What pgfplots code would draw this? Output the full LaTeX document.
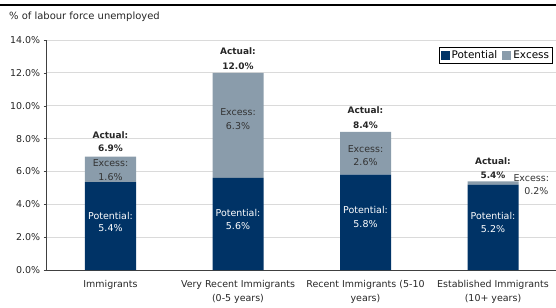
\documentclass[border=0pt]{standalone}
\usepackage{pgfplots}
\pgfplotsset{compat=1.18}
\usepackage{fontspec}
\setmainfont{DejaVu Sans}
\definecolor{navy}{HTML}{003366}
\definecolor{excess}{HTML}{8A9CAB}
\definecolor{gridc}{HTML}{DADADA}
\definecolor{axc}{HTML}{404040}
\begin{document}
\begin{tikzpicture}
\path[use as bounding box] (0,0) rectangle (556bp,308bp);
\draw[black, line width=1.5bp] (0,303bp) -- (556bp,303bp);
\node[anchor=west, inner sep=0pt, font=\fontsize{10}{11}\selectfont, text=black!85] at (9bp,291bp) {\% of labour force unemployed};
\tikzset{lab/.style={font=\fontsize{9.5}{10}\selectfont, inner sep=0pt},
  alab/.style={font=\fontsize{9}{10}\selectfont\bfseries, inner sep=0pt, text=black!85}}
\begin{axis}[
  at={(46.75bp,38bp)}, anchor=south west,
  scale only axis, width=510bp, height=230bp,
  ybar stacked, bar width=51bp,
  xmin=-0.5, xmax=3.5, ymin=0, ymax=14,
  ytick={0,2,...,14},
  xtick={0,1,2,3},
  xticklabels={Immigrants, {Very Recent Immigrants\\(0-5 years)}, {Recent Immigrants (5-10\\years)}, {Established Immigrants\\(10+ years)}},
  xticklabel style={align=center, font=\fontsize{9.5}{14}\selectfont, text=black!85, yshift=-4bp},
  major x tick style={draw=none},
  yticklabel={\pgfmathprintnumber[fixed,fixed zerofill,precision=1]{\tick}\%},
  yticklabel style={font=\fontsize{9.5}{10}\selectfont, text=black!85},
  /pgf/number format/assume math mode=true,
  tick align=outside, major tick length=3bp,
  axis lines*=left,
  axis line style={axc, line width=1bp},
  ytick style={axc},
  ymajorgrids, grid style={gridc, line width=0.8bp},
  clip=false,
  legend style={at={(0.9926,0.9696)}, anchor=north east, draw=black, line width=0.8bp, font=\fontsize{10.5}{11}\selectfont, legend columns=2, inner sep=1.5bp, /tikz/every even column/.append style={column sep=3bp}},
  legend image code/.code={\fill[#1] (0bp,-4.5bp) rectangle (9bp,4.5bp);},
  after end axis/.append code={
    \node[alab] at (axis cs:0,8.2) {Actual:};
    \node[alab] at (axis cs:0,7.4) {6.9\%};
    \node[alab] at (axis cs:1,13.3) {Actual:};
    \node[alab] at (axis cs:1,12.4) {12.0\%};
    \node[alab] at (axis cs:2,9.7) {Actual:};
    \node[alab] at (axis cs:2,8.8) {8.4\%};
    \node[alab] at (axis cs:3,6.65) {Actual:};
    \node[alab] at (axis cs:3,5.78) {5.4\%};
    \node[lab, text=black!80] at (axis cs:0,6.5) {Excess:};
    \node[lab, text=black!80] at (axis cs:0,5.68) {1.6\%};
    \node[lab, text=black!80] at (axis cs:1,9.6) {Excess:};
    \node[lab, text=black!80] at (axis cs:1,8.76) {6.3\%};
    \node[lab, text=black!80] at (axis cs:2,7.36) {Excess:};
    \node[lab, text=black!80] at (axis cs:2,6.6) {2.6\%};
    \node[lab, text=black!80] at (axis cs:3.3,5.6) {Excess:};
    \node[lab, text=black!80] at (axis cs:3.34,4.8) {0.2\%};
    \node[lab, text=white] at (axis cs:0,3.3) {Potential:};
    \node[lab, text=white] at (axis cs:0,2.55) {5.4\%};
    \node[lab, text=white] at (axis cs:1,3.5) {Potential:};
    \node[lab, text=white] at (axis cs:1,2.7) {5.6\%};
    \node[lab, text=white] at (axis cs:2,3.65) {Potential:};
    \node[lab, text=white] at (axis cs:2,2.8) {5.8\%};
    \node[lab, text=white] at (axis cs:3,3.3) {Potential:};
    \node[lab, text=white] at (axis cs:3,2.5) {5.2\%};
  },
]
\addplot[fill=navy, draw=none] coordinates {(0,5.35) (1,5.6) (2,5.8) (3,5.2)};
\addplot[fill=excess, draw=none] coordinates {(0,1.55) (1,6.4) (2,2.6) (3,0.2)};
\legend{Potential, Excess}
\end{axis}
\end{tikzpicture}
\end{document}
